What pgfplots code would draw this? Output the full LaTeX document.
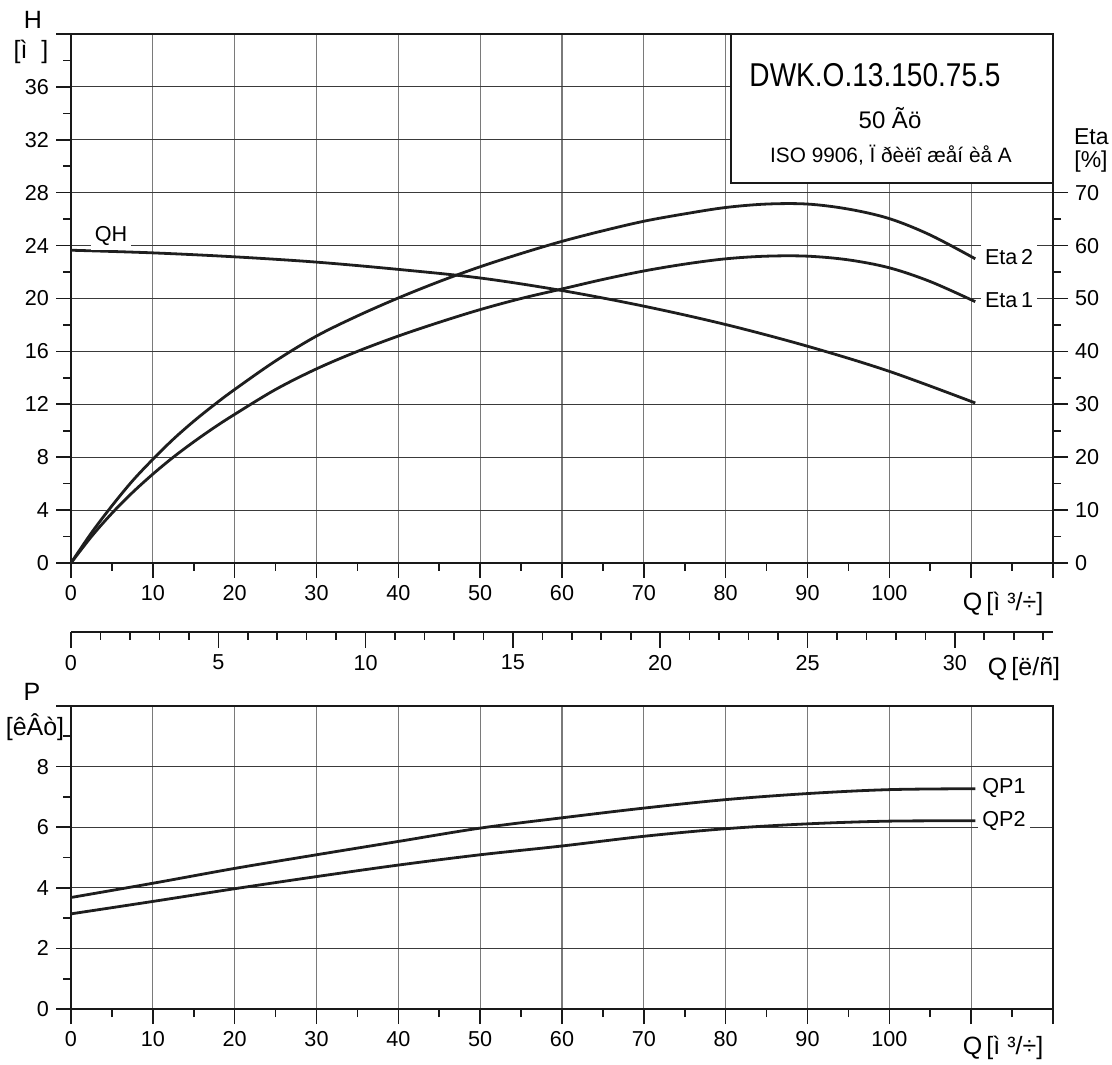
\documentclass[border=0pt]{standalone}
\usepackage{fontspec}
\setmainfont{Liberation Sans}
\usepackage{pgfplots}
\pgfplotsset{compat=1.18}

\definecolor{curve}{HTML}{1E1E1E}
\definecolor{hgrid}{HTML}{3A3A3A}
\definecolor{vgrid}{HTML}{7A7A7A}

\pgfplotsset{
  mybase/.style={
    scale only axis, anchor=south west, width=491pt,
    xmin=0, xmax=120,
    axis line style={line width=1pt, black!90},
    every tick/.style={line width=0.8pt, black!90},
    tick align=outside,
    major tick length=7.5pt, minor tick length=4pt,
    tick label style={font=\fontsize{10.8}{12}\selectfont},
    /pgf/number format/assume math mode=true,
    x grid style={vgrid, line width=0.6pt},
    y grid style={hgrid, line width=0.5pt},
  },
  mycurve/.style={curve, line width=1.4pt, smooth, tension=0.55, no marks},
}

\begin{document}
\begin{tikzpicture}[x=0.5pt,y=0.5pt]
\path[use as bounding box] (0,0) rectangle (1112,1064);

% ---------- top: H and Eta ----------
\begin{axis}[mybase, at={(35.5pt,250.5pt)}, height=264.5pt,
  ymin=0, ymax=40,
  xtick={0,10,...,120}, xticklabels={0,10,20,30,40,50,60,70,80,90,100,,},
  minor xtick={5,15,...,115},
  ytick={0,4,...,40}, yticklabels={0,4,8,12,16,20,24,28,32,36,},
  minor ytick={2,6,...,38},
  xtick pos=left, ytick pos=left,
  grid=major]
\addplot[mycurve] coordinates {(0,23.65) (10,23.45) (20,23.15) (30,22.75) (40,22.2) (50,21.55) (60,20.6) (70,19.42) (80,18.03) (90,16.39) (100,14.49) (110.5,12.1)};
\end{axis}

\begin{axis}[mybase, at={(35.5pt,250.5pt)}, height=264.5pt,
  ymin=0, ymax=100,
  hide x axis, axis y line*=right,
  ytick={0,10,...,70}, minor ytick={5,15,...,65},
  tick align=outside]
\addplot[mycurve] coordinates {(0,0) (2.5,5.7) (5,10.8) (7.5,15.5) (10,19.6) (12.5,23.4) (15,26.8) (17.5,29.9) (20,32.8) (25,38.2) (30,42.9) (35,46.7) (40,50.1) (45,53.2) (50,56.0) (55,58.5) (60,60.8) (65,62.8) (70,64.6) (75,66.0) (80,67.2) (85,67.85) (90,67.85) (95,66.9) (100,65.1) (105,62.0) (110.5,57.5)};
\addplot[mycurve] coordinates {(0,0) (2.5,5.0) (5,9.4) (7.5,13.3) (10,16.8) (12.5,20.0) (15,22.9) (17.5,25.6) (20,28.1) (25,32.8) (30,36.7) (35,40.0) (40,42.9) (45,45.5) (50,47.9) (55,50.0) (60,51.8) (65,53.6) (70,55.2) (75,56.5) (80,57.5) (85,58.0) (90,58.0) (95,57.3) (100,55.8) (105,53.2) (110.5,49.4)};
\end{axis}

% ---------- l/s scale ----------
\begin{axis}[mybase, at={(35.5pt,216pt)}, height=10pt,
  xmin=0, xmax=33.3333, ymin=0, ymax=1,
  axis x line*=bottom, hide y axis,
  xtick={0,5,...,30}, minor xtick={1,...,33},
  major tick length=8pt, tick align=outside]
\addplot[draw=none] coordinates {(0,0)};
\end{axis}

% ---------- bottom: P ----------
\begin{axis}[mybase, at={(35.5pt,27.5pt)}, height=151.5pt,
  ymin=0, ymax=10,
  xtick={0,10,...,120}, xticklabels={0,10,20,30,40,50,60,70,80,90,100,,},
  minor xtick={5,15,...,115},
  ytick={0,2,...,10}, yticklabels={0,2,4,6,8,},
  minor ytick={1,3,...,9},
  xtick pos=left, ytick pos=left,
  grid=major]
\addplot[mycurve] coordinates {(0,3.68) (10,4.15) (20,4.64) (30,5.09) (40,5.53) (50,5.97) (60,6.31) (70,6.63) (80,6.91) (90,7.11) (100,7.24) (110.5,7.27)};
\addplot[mycurve] coordinates {(0,3.14) (10,3.55) (20,3.97) (30,4.37) (40,4.75) (50,5.09) (60,5.38) (70,5.70) (80,5.95) (90,6.11) (100,6.20) (110.5,6.21)};
\end{axis}

% ---------- info box ----------
\draw[line width=1pt, black!90, fill=white] (731,1030) rectangle (1053,881);
\node[font=\fontsize{16.5}{19}\selectfont] at (875,989) {\scalebox{0.85}[1]{DWK.O.13.150.75.5}};
\node[font=\fontsize{12}{14}\selectfont] at (890,946) {50 Ãö};
\node[font=\fontsize{10.4}{12}\selectfont] at (891,909) {ISO 9906, Ï ðèëî æåí èå A};

% ---------- labels ----------
\begin{scope}[every node/.style={font=\fontsize{10.8}{12}\selectfont, inner sep=2pt}]
\node[fill=white] at (111,828) {QH};
\node[fill=white] at (1009,807) {Eta\,2};
\node[fill=white] at (1009,764) {Eta\,1};
\node[fill=white] at (1004,276) {QP1};
\node[fill=white] at (1004,243) {QP2};
\end{scope}
\begin{scope}[every node/.style={font=\fontsize{12.5}{14}\selectfont, inner sep=1pt}]
\node at (33,1044) {H};
\node at (31,1012) {[ì\ \ ]};
\node at (32,372) {P};
\node at (35,337) {[êÂò]};
\node[anchor=east, font=\fontsize{11.5}{13}\selectfont] at (1111,927) {Eta};
\node[anchor=east, font=\fontsize{11.5}{13}\selectfont] at (1110,902) {[\%]};
\node at (1003,460) {Q\,[ì\ ³/÷]};
\node at (1024,395) {Q\,[ë/ñ]};
\node at (1003,16) {Q\,[ì\ ³/÷]};
\end{scope}
\end{tikzpicture}
\end{document}
